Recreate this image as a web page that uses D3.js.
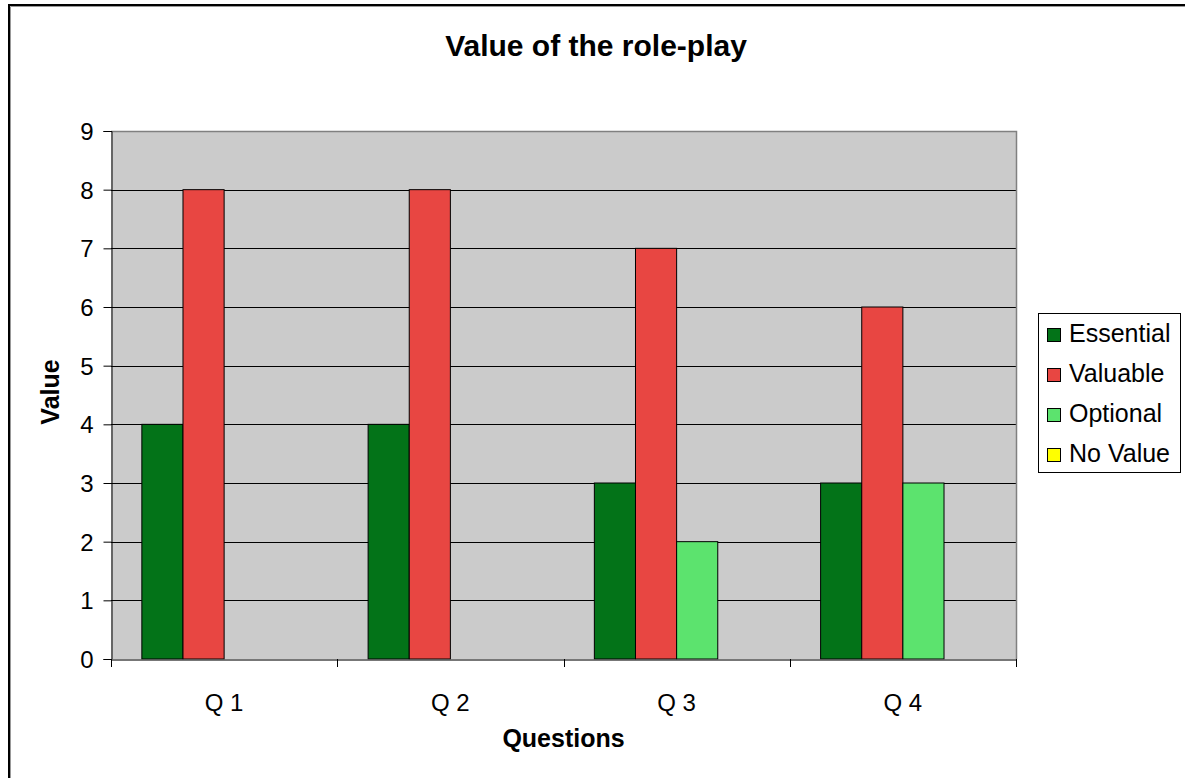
<!DOCTYPE html>
<html>
<head>
<meta charset="utf-8">
<script src="https://cdn.jsdelivr.net/npm/d3@7"></script>
<style>
  html, body { margin: 0; padding: 0; background: #fff; overflow: hidden; }
  svg { display: block; font-family: "Liberation Sans", Arial, sans-serif; }
</style>
</head>
<body>
<svg id="chart" width="1185" height="778"></svg>
<script>
// chart data
const questions = ["Q 1", "Q 2", "Q 3", "Q 4"];
const seriesNames = ["Essential", "Valuable", "Optional", "No Value"];
const essential = [4, 4, 3, 3];
const valuable = [8, 8, 7, 6];
const optional = [0, 0, 2, 3];
const noValue = [0, 0, 0, 0];
const seriesColors = ["#037318", "#e84642", "#5ce36e", "#ffff00"];
const yTicks = [0, 1, 2, 3, 4, 5, 6, 7, 8, 9];

const seriesValues = [essential, valuable, optional, noValue];

const svg = d3.select("#chart");

// outer chart border: only top and left edges are inside the picture
svg.append("path")
  .attr("d", "M9,778V5H1185")
  .attr("fill", "none")
  .attr("stroke", "#000")
  .attr("stroke-width", 2);
svg.append("path")
  .attr("d", "M10.5,778V6.5H1185")
  .attr("fill", "none")
  .attr("stroke", "#999")
  .attr("stroke-width", 1);

// plot area
const plotLeft = 111, plotRight = 1016, plotTop = 131, plotBottom = 659;

const yScale = d3.scaleLinear().domain([0, 9]).range([plotBottom, plotTop]);
const x0 = d3.scaleBand().domain(questions).range([plotLeft, plotRight]).padding(0);
const x1 = d3.scaleBand().domain(seriesNames).range([0, x0.bandwidth()])
  .paddingInner(0).paddingOuter(0.75);

svg.append("rect")
  .attr("x", plotLeft).attr("y", plotTop)
  .attr("width", plotRight - plotLeft).attr("height", plotBottom - plotTop)
  .attr("fill", "#cbcbcb");

// horizontal grid lines
svg.append("g")
  .selectAll("line")
  .data(yTicks.filter(d => d > 0 && d < 9))
  .join("line")
  .attr("x1", plotLeft).attr("x2", plotRight)
  .attr("y1", d => Math.round(yScale(d)) + 0.5)
  .attr("y2", d => Math.round(yScale(d)) + 0.5)
  .attr("stroke", "#000");

// top and right border of plot area
svg.append("path")
  .attr("d", `M${plotLeft},${plotTop + 0.5}H${plotRight + 0.5}V${plotBottom}`)
  .attr("fill", "none")
  .attr("stroke", "#808080")
  .attr("stroke-width", 1.5);

// bars
const table = [];
questions.forEach((q, i) => {
  seriesNames.forEach((s, j) => {
    table.push({ q: q, s: s, value: seriesValues[j][i], color: seriesColors[j] });
  });
});

svg.append("g")
  .selectAll("rect")
  .data(table.filter(d => d.value > 0))
  .join("rect")
  .attr("x", d => x0(d.q) + x1(d.s))
  .attr("y", d => yScale(d.value))
  .attr("width", x1.bandwidth())
  .attr("height", d => yScale(0) - yScale(d.value))
  .attr("fill", d => d.color)
  .attr("stroke", "#000")
  .attr("stroke-width", 1);

// y axis
const yAxis = svg.append("g")
  .attr("transform", `translate(${plotLeft + 0.5},0)`)
  .call(d3.axisLeft(yScale).tickValues(yTicks).tickSize(8).tickPadding(10));
yAxis.select(".domain").attr("stroke", "#000");
yAxis.selectAll(".tick line").attr("stroke", "#000");
yAxis.selectAll(".tick text")
  .attr("font-size", 24)
  .attr("font-family", "Liberation Sans, Arial, sans-serif")
  .attr("fill", "#000")
  .attr("dy", "0.36em");

// x axis with ticks at category boundaries
const xAxis = svg.append("g")
  .attr("transform", `translate(0,${plotBottom + 0.5})`)
  .call(d3.axisBottom(x0).tickSize(0).tickPadding(34));
xAxis.select(".domain").attr("stroke", "#4a4a4a").attr("stroke-width", 1.5);
xAxis.selectAll(".tick text")
  .attr("font-size", 24)
  .attr("font-family", "Liberation Sans, Arial, sans-serif")
  .attr("fill", "#000");

const bounds = questions.map(q => x0(q)).concat([plotRight]);
svg.append("g")
  .selectAll("line")
  .data(bounds)
  .join("line")
  .attr("x1", d => Math.round(d) + 0.5).attr("x2", d => Math.round(d) + 0.5)
  .attr("y1", plotBottom).attr("y2", plotBottom + 8)
  .attr("stroke", "#000");

// title and axis titles
svg.append("text")
  .attr("x", 596).attr("y", 56)
  .attr("text-anchor", "middle")
  .attr("font-size", 30)
  .attr("font-weight", "bold")
  .text("Value of the role-play");

svg.append("text")
  .attr("x", (plotLeft + plotRight) / 2).attr("y", 747)
  .attr("text-anchor", "middle")
  .attr("font-size", 25)
  .attr("font-weight", "bold")
  .text("Questions");

svg.append("text")
  .attr("transform", `translate(59,${(plotTop + plotBottom) / 2 - 3}) rotate(-90)`)
  .attr("text-anchor", "middle")
  .attr("font-size", 25)
  .attr("font-weight", "bold")
  .text("Value");

// legend
const legend = svg.append("g");
legend.append("rect")
  .attr("x", 1038.5).attr("y", 313.5)
  .attr("width", 142).attr("height", 159)
  .attr("fill", "#fff")
  .attr("stroke", "#000");

const rows = legend.selectAll("g.item")
  .data(seriesNames)
  .join("g")
  .attr("class", "item")
  .attr("transform", (d, i) => `translate(1047,${342 + i * 40})`);

rows.append("rect")
  .attr("x", 0.5).attr("y", -13.5)
  .attr("width", 13).attr("height", 13)
  .attr("fill", (d, i) => seriesColors[i])
  .attr("stroke", "#000");

rows.append("text")
  .attr("x", 22).attr("y", 0)
  .attr("font-size", 25)
  .text(d => d);
</script>
</body>
</html>
